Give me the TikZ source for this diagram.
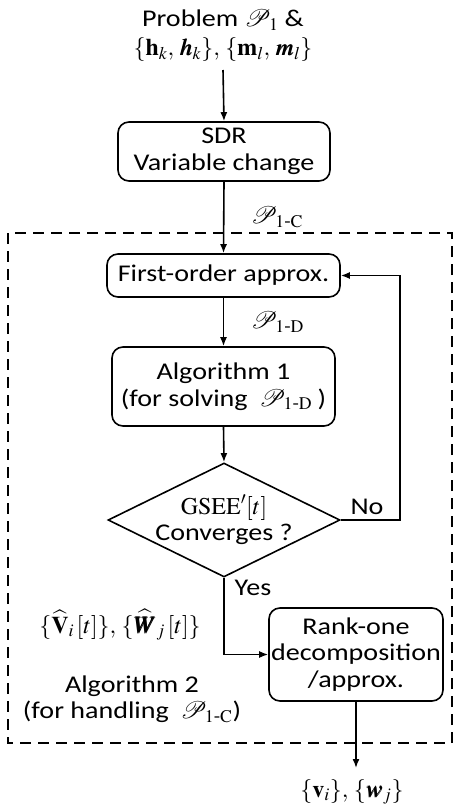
\documentclass[tikz,border=0pt]{standalone}
\usepackage{mathptmx}
\usepackage{amsmath,bm}
\usepackage{fontspec}
\setmainfont{Carlito}[FakeStretch=1.17]
\usetikzlibrary{arrows.meta,shapes.geometric}
\tikzset{
  x=1pt, y=-1pt,
  txt/.style={font=\fontsize{24}{26.5}\selectfont, align=center, inner sep=0pt},
  mth/.style={font=\fontsize{24}{26}\selectfont, inner sep=0pt},
  blk/.style={draw, line width=1.6pt, rounded corners=11pt, align=center,
              font=\fontsize{24}{26.5}\selectfont, inner sep=0pt},
  dec/.style={draw, line width=1.6pt, shape=diamond, inner sep=0pt},
  flow/.style={line width=1.6pt, -{Latex[length=9pt,width=7pt]}},
  frame/.style={line width=1.6pt, dash pattern=on 11pt off 7pt},
}
\newcommand{\Pc}[1]{\mathcal{P}_{\mathrm{#1}}}
\begin{document}
\begin{tikzpicture}
\useasboundingbox (0,0) rectangle (456,811);
% outer loop frame
\draw[frame] (8,233) rectangle (452,743);

% input
\node[txt] (prob) at (223,20) {Problem $\Pc{1}$ \&};
\node[mth] (inp) at (223,50) {$\{\mathbf{h}_k,\,\bm{h}_k\},\,\{\mathbf{m}_l,\,\bm{m}_l\}$};
\coordinate (inbot) at (223,70);

% blocks
\node[blk, minimum width=212, minimum height=59] (sdr) at (224,151.5) {SDR\\Variable change};
\node[blk, minimum width=233, minimum height=43] (fo) at (223.5,275.5) {First-order approx.};
\node[blk, minimum width=223, minimum height=79] (alg1) at (223.5,386.5)
  {Algorithm 1\\(for solving $\;\Pc{1\text{-}D}\;$)};
\node[dec, minimum width=232, minimum height=114] (conv) at (224,520) {};
\node[txt] (convtxt) at (conv.center) {$\mathrm{GSEE}'[t]$\\Converges ?};
\node[blk, minimum width=174, minimum height=93] (rank) at (356,654.5)
  {Rank-one\\decomposition\\/approx.};

% labels
\node[mth, anchor=west] (pc) at (251,217) {$\Pc{1\text{-}C}$};
\node[mth, anchor=west] (pd) at (251,322) {$\Pc{1\text{-}D}$};
\node[txt] (no) at (367,507) {No};
\node[txt] (yes) at (253,588) {Yes};
\node[mth] (vw) at (120,625)
  {$\{\widehat{\mathbf{V}}_i\,[t]\},\,\{\widehat{\bm{W}}_j\,[t]\}$};
\node[txt] (alg2) at (132,699) {Algorithm 2\\(for handling $\;\Pc{1\text{-}C}$)};
\node[mth] (out) at (352,792) {$\{\mathbf{v}_i\},\,\{\bm{w}_j\}$};

% connectors
\draw[flow] (inbot) -- (sdr.north);
\draw[flow] (sdr.south) -- (fo.north);
\draw[flow] (fo.south) -- (alg1.north);
\draw[flow] (alg1.south) -- (conv.north);
\draw[flow] (conv.east) -- (400,520) |- (fo.east);
\draw[flow] (conv.south) |- (rank.west);
\coordinate (outtop) at (356,768);
\draw[flow] (rank.south) -- (outtop);
\end{tikzpicture}
\end{document}
